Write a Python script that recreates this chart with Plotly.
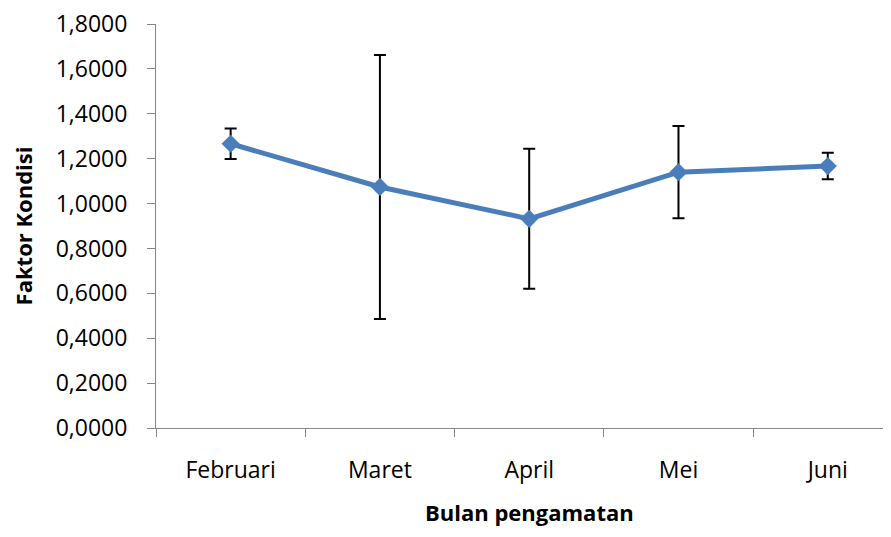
import plotly.graph_objects as go

months = ["Februari", "Maret", "April", "Mei", "Juni"]
faktor_kondisi = [1.2665, 1.074, 0.932, 1.140, 1.167]
std_dev = [0.068, 0.588, 0.312, 0.205, 0.059]
y_ticks = [0.0, 0.2, 0.4, 0.6, 0.8, 1.0, 1.2, 1.4, 1.6, 1.8]

FONT = "Open Sans"

fig = go.Figure()
fig.add_trace(go.Scatter(
    x=months, y=faktor_kondisi,
    mode="lines+markers",
    line=dict(color="#4A7EBB", width=5),
    marker=dict(symbol="diamond", size=14, color="#4A7EBB"),
    error_y=dict(type="data", array=std_dev, visible=True,
                 color="black", thickness=2, width=6),
    showlegend=False,
))

fig.update_layout(
    width=875, height=521,
    margin=dict(l=148, r=0, t=16, b=101),
    paper_bgcolor="white", plot_bgcolor="white",
    separators=", ",
    font=dict(family=FONT, size=23, color="black"),
    xaxis=dict(
        type="category", range=[-0.5, 4.37], automargin=False,
        showline=True, linecolor="#868686", linewidth=1,
        ticks="outside", tickson="boundaries", ticklen=8, tickcolor="#868686",
        showgrid=False, zeroline=False,
        ticklabelstandoff=21,
    ),
    yaxis=dict(
        range=[0, 1.8], tickvals=y_ticks, tickformat=".4f", automargin=False,
        showline=True, linecolor="#868686", linewidth=1,
        ticks="outside", ticklen=8, tickcolor="#868686",
        showgrid=False, zeroline=False,
        ticklabelstandoff=15, ticklabeloverflow="allow",
        title=dict(text="<b>Faktor Kondisi</b>", font=dict(size=22), standoff=31),
    ),
    annotations=[dict(
        text="<b>Bulan pengamatan</b>", font=dict(size=22),
        xref="paper", yref="paper", x=0.514, y=0, borderpad=0,
        xanchor="center", yanchor="middle", yshift=-84, showarrow=False,
    )],
)

fig.write_html("out.html")
